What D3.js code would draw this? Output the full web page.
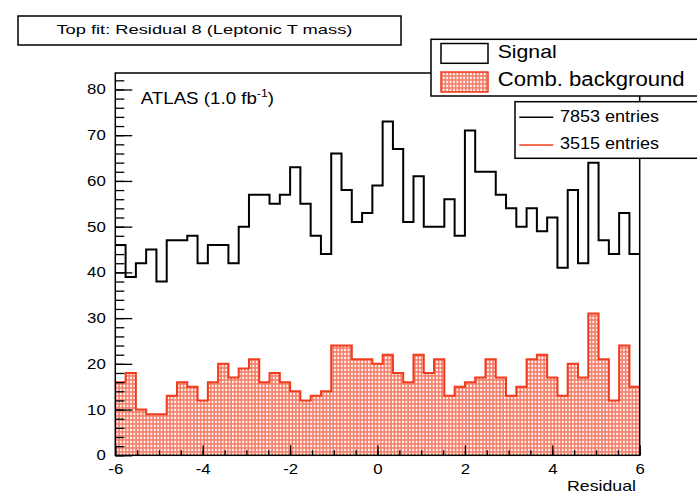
<!DOCTYPE html>
<html>
<head>
<meta charset="utf-8">
<script src="https://cdn.jsdelivr.net/npm/d3@7"></script>
<style>
  html, body { margin: 0; padding: 0; background: #fff; }
  svg { display: block; }
  text { font-family: "Liberation Sans", Arial, Helvetica, sans-serif; fill: #000; }
</style>
</head>
<body>
<svg id="chart" width="697" height="493"></svg>
<script>
// Residual histogram: 51 equal bins between -6 and 6
const binRange = [-6, 6];
const signal = [46,39,42,45,38,47,47,48,42,46,46,42,50,57,57,55,57,63,55,48,44,66,58,51,53,
                59,73,67,51,61,50,50,56,48,71,62,62,57,54,50,54,49,52,41,58,42,64,47,44,53,44];
const background = [16,18,10,9,9,13,16,15,12,16,20,17,19,21,16,18,16,14,12,13,14,24,24,21,21,
                    20,22,18,16,22,18,21,13,15,16,17,21,17,13,15,21,22,17,13,20,17,31,21,12,24,15];
const xMajorTicks = [-6, -4, -2, 0, 2, 4, 6];
const yMajorTicks = [0, 10, 20, 30, 40, 50, 60, 70, 80];
const legendLabels = ["Signal", "Comb. background"];
const entryLabels = ["7853 entries", "3515 entries"];
const titleText = "Top fit: Residual 8 (Leptonic T mass)";
const xTitle = "Residual";

const RED = "#f03c1e";
const svg = d3.select("#chart");

const plot = { left: 115.3, right: 639.7, top: 73, bottom: 455.3 };
const x = d3.scaleLinear().domain(binRange).range([plot.left, plot.right]);
const y = d3.scaleLinear().domain([0, 83.6]).range([plot.bottom, plot.top]);

// stretch a text element horizontally to a given width
function fitWidth(sel, width) {
  sel.attr("textLength", width).attr("lengthAdjust", "spacingAndGlyphs");
}
function widen(sel, k) {
  sel.each(function () {
    const w = this.getComputedTextLength();
    d3.select(this).attr("textLength", w * k).attr("lengthAdjust", "spacingAndGlyphs");
  });
}

// dotted fill pattern for the background histogram
const defs = svg.append("defs");
const pat = defs.append("pattern")
  .attr("id", "dots").attr("patternUnits", "userSpaceOnUse")
  .attr("width", 3.4).attr("height", 4);
pat.append("rect").attr("width", 3.4).attr("height", 4).attr("fill", "#f37a64");
pat.append("rect").attr("x", 0.8).attr("y", 0.7).attr("width", 1.9).attr("height", 2.5)
  .attr("fill", "#fff").attr("opacity", 0.92);

// histogram geometry
const n = signal.length;
const edges = d3.range(n + 1).map(i => binRange[0] + i * (binRange[1] - binRange[0]) / n);
const stepPoints = vals => vals.map((v, i) => [edges[i], v]).concat([[edges[n], vals[n - 1]]]);

const area = d3.area().curve(d3.curveStepAfter)
  .x(d => x(d[0])).y0(y(0)).y1(d => y(d[1]));
const line = d3.line().curve(d3.curveStepAfter)
  .x(d => x(d[0])).y(d => y(d[1]));

svg.append("path").attr("d", area(stepPoints(background)))
  .attr("fill", "url(#dots)").attr("stroke", "none");
svg.append("path").attr("d", line(stepPoints(background)))
  .attr("fill", "none").attr("stroke", RED).attr("stroke-width", 2);
svg.append("path").attr("d", line(stepPoints(signal)))
  .attr("fill", "none").attr("stroke", "#000").attr("stroke-width", 2);

// axes (ticks point into the frame)
const fmt = d => String(d);
const yMinor = svg.append("g").attr("transform", `translate(${plot.left},0)`)
  .call(d3.axisLeft(y).tickValues(d3.range(0, 84, 2)).tickSize(-9).tickFormat(""));
const yAxis = svg.append("g").attr("transform", `translate(${plot.left},0)`)
  .call(d3.axisLeft(y).tickValues(yMajorTicks).tickSize(-17).tickPadding(9.5).tickFormat(fmt));
const xMinor = svg.append("g").attr("transform", `translate(0,${plot.bottom})`)
  .call(d3.axisBottom(x).tickValues(d3.range(-6, 6.01, 0.5)).tickSize(-5).tickFormat(""));
const xAxis = svg.append("g").attr("transform", `translate(0,${plot.bottom})`)
  .call(d3.axisBottom(x).tickValues(xMajorTicks).tickSize(-10).tickPadding(8.5).tickFormat(fmt));

[yMinor, yAxis, xMinor, xAxis].forEach(g => {
  g.select(".domain").remove();
  g.selectAll(".tick line").attr("stroke", "#000").attr("stroke-width", 1.3);
});
[yAxis, xAxis].forEach(g => {
  g.selectAll(".tick text").attr("font-size", 14).attr("fill", "#000")
    .style("font-family", '"Liberation Sans", Arial, sans-serif');
  widen(g.selectAll(".tick text"), 1.2);
});

// frame
svg.append("rect")
  .attr("x", plot.left).attr("y", plot.top)
  .attr("width", plot.right - plot.left).attr("height", plot.bottom - plot.top)
  .attr("fill", "none").attr("stroke", "#000").attr("stroke-width", 1.5);

// x axis title
svg.append("text").attr("x", 636).attr("y", 491).attr("text-anchor", "end")
  .attr("font-size", 14.5).text(xTitle).call(fitWidth, 69);

// ATLAS label
const atlas = svg.append("text").attr("font-size", 16)
  .attr("transform", "translate(140.7,104) scale(1.17,1)");
atlas.append("tspan").text("ATLAS (1.0 fb");
atlas.append("tspan").attr("font-size", 10.5).attr("dy", -7).text("-1");
atlas.append("tspan").attr("dy", 7).text(")");

// title box
svg.append("rect").attr("x", 18).attr("y", 16).attr("width", 383).attr("height", 29)
  .attr("fill", "#fff").attr("stroke", "#000").attr("stroke-width", 1.5);
svg.append("text").attr("x", 204.4).attr("y", 33.5).attr("text-anchor", "middle")
  .attr("font-size", 13).text(titleText).call(fitWidth, 296);

// legend: histogram styles
const leg1 = svg.append("g");
leg1.append("rect").attr("x", 431).attr("y", 39.3).attr("width", 300).attr("height", 56.7)
  .attr("fill", "#fff").attr("stroke", "#000").attr("stroke-width", 1.5);
leg1.append("rect").attr("x", 441).attr("y", 43.5).attr("width", 47).attr("height", 19.8)
  .attr("fill", "#fff").attr("stroke", "#000").attr("stroke-width", 1.5);
leg1.append("rect").attr("x", 441).attr("y", 72).attr("width", 47).attr("height", 20)
  .attr("fill", "url(#dots)").attr("stroke", RED).attr("stroke-width", 1.5);
leg1.append("text").attr("x", 497.7).attr("y", 58.3).attr("font-size", 19)
  .text(legendLabels[0]).call(fitWidth, 59);
leg1.append("text").attr("x", 497.7).attr("y", 86).attr("font-size", 19.5)
  .text(legendLabels[1]).call(fitWidth, 187);

// legend: entries
const leg2 = svg.append("g");
leg2.append("rect").attr("x", 515).attr("y", 101.7).attr("width", 200).attr("height", 56.6)
  .attr("fill", "#fff").attr("stroke", "#000").attr("stroke-width", 1.5);
[["#000", 117.3, 121.7], [RED, 145, 149.3]].forEach(([c, ly, ty], i) => {
  leg2.append("line").attr("x1", 519.3).attr("x2", 553.3).attr("y1", ly).attr("y2", ly)
    .attr("stroke", c).attr("stroke-width", 1.5);
  leg2.append("text").attr("x", 560).attr("y", ty).attr("font-size", 16)
    .text(entryLabels[i]).call(fitWidth, 99);
});
</script>
</body>
</html>
